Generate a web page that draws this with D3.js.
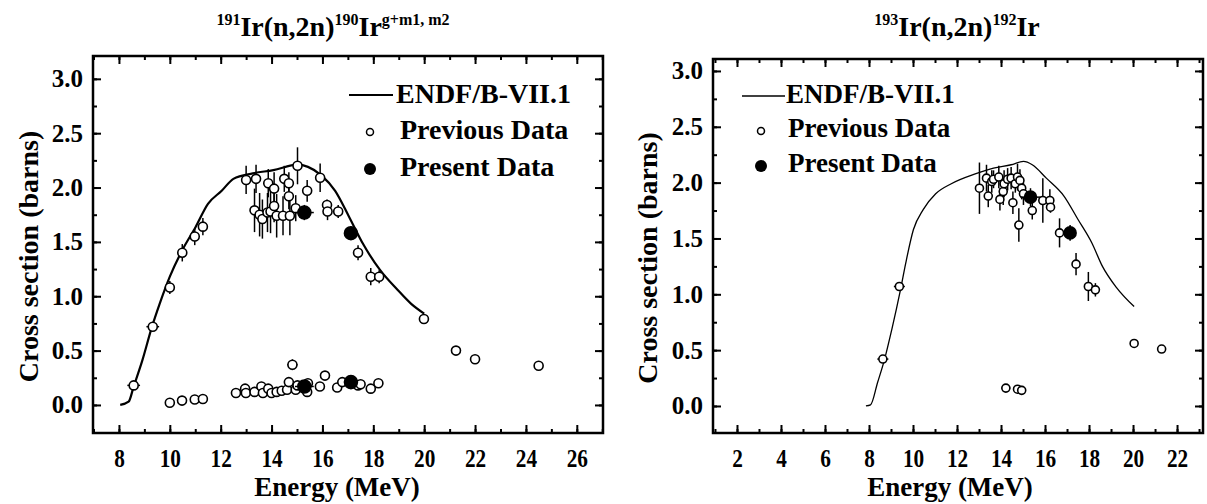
<!DOCTYPE html>
<html><head><meta charset="utf-8">
<script src="https://cdn.jsdelivr.net/npm/d3@7"></script>
<style>
body{margin:0;background:#fff;}
svg{display:block;}
svg text{font-family:"Liberation Serif","Times New Roman",serif;font-weight:bold;fill:#000;}
</style></head>
<body><svg id="c" width="1207" height="504"></svg>
<script>
// ---------- LEFT PANEL: 191Ir(n,2n)190Ir ----------
const leftEndfE = [8.05,8.38,8.58,8.92,9.30,9.60,10.0,10.48,11.02,11.5,12.04,12.5,13.26,14.07,15.02,15.43,15.97,16.5,17.05,17.6,18.27,18.95,19.49,20.0];
const leftEndfS = [0.0,0.03,0.17,0.41,0.72,0.93,1.18,1.42,1.64,1.85,1.97,2.08,2.13,2.16,2.21,2.19,2.11,1.97,1.73,1.48,1.24,1.06,0.93,0.84];

const leftPrevE   = [8.58,9.33,10.0,10.49,10.98,11.3,13.0,13.39,13.33,13.53,13.64,13.87,13.84,13.96,14.1,14.1,14.2,14.45,14.5,14.68,14.68,14.72,14.95,15.02,15.4,15.91,16.18,16.2,16.62,17.4,17.9,18.23,19.99,21.25,22.0,24.5,
                     10.0,10.48,10.98,11.3,12.6,12.96,12.99,13.33,13.6,13.66,13.87,14.0,14.2,14.4,14.61,14.68,14.82,14.95,15.02,15.4,15.43,15.9,16.1,16.58,16.78,17.4,17.5,17.9,18.2];
const leftPrevS   = [0.18,0.72,1.08,1.40,1.55,1.64,2.07,2.08,1.79,1.75,1.71,2.04,1.77,1.78,1.99,1.83,1.74,1.74,2.08,2.04,1.92,1.74,1.81,2.20,1.97,2.09,1.84,1.78,1.78,1.40,1.18,1.18,0.79,0.50,0.42,0.36,
                     0.02,0.04,0.05,0.055,0.11,0.15,0.11,0.12,0.17,0.11,0.15,0.11,0.12,0.13,0.14,0.21,0.37,0.14,0.18,0.12,0.20,0.17,0.27,0.16,0.21,0.18,0.19,0.15,0.20];
const leftPrevErr = [0.02,0.03,0.06,0.08,0.08,0.08,0.13,0.13,0.20,0.20,0.18,0.13,0.18,0.20,0.15,0.15,0.20,0.18,0.12,0.10,0.12,0.18,0.12,0.17,0.10,0.13,0.05,0.08,0.06,0.07,0.08,0.06,0.03,0.01,0.01,0.01,
                     0.02,0.02,0.02,0.02,0.01,0.01,0.01,0.02,0.02,0.02,0.02,0.02,0.02,0.02,0.02,0.02,0.05,0.02,0.02,0.02,0.02,0.01,0.01,0.02,0.01,0.02,0.02,0.02,0.02];
const leftPrevXErr= [0.25,0.25,0,0,0,0,0,0,0,0,0,0,0,0,0,0,0,0,0,0,0,0,0,0,0,0,0,0,0,0,0,0,0,0,0,0,
                     0,0,0,0,0,0,0,0,0,0,0,0,0,0,0,0,0.2,0,0,0,0,0,0,0,0,0,0,0,0];
const leftPresE    = [15.29,17.12,15.29,17.12];
const leftPresS    = [1.77,1.58,0.17,0.21];
const leftPresErr  = [0.07,0.06,0.02,0.02];
const leftPresXErr = [0.37,0.1,0.37,0.1];
const leftXTicks = [8,10,12,14,16,18,20,22,24,26];
const leftYTicks = [0.0,0.5,1.0,1.5,2.0,2.5,3.0];

// ---------- RIGHT PANEL: 193Ir(n,2n)192Ir ----------
const rightEndfE = [7.86,8.07,8.39,8.71,9.03,9.43,9.67,10.02,10.47,11.03,11.74,12.86,13.66,14.46,15.02,15.42,16.06,16.86,17.5,18.13,18.61,19.25,20.05];
const rightEndfS = [0.0,0.01,0.21,0.42,0.68,1.04,1.28,1.58,1.76,1.90,1.99,2.08,2.13,2.16,2.19,2.16,2.04,1.88,1.67,1.46,1.25,1.06,0.89];

const rightPrevE   = [8.63,9.38,13.02,13.34,13.42,13.58,13.66,13.9,13.95,14.1,14.14,14.3,14.46,14.54,14.65,14.75,14.81,14.86,14.94,15.02,15.42,15.9,16.22,16.25,16.66,17.41,17.97,18.29,20.05,21.3,14.22,14.75,14.94];
const rightPrevS   = [0.42,1.07,1.95,2.04,1.88,2.01,2.03,2.05,1.85,1.92,1.99,2.03,2.04,1.82,1.99,2.05,1.62,2.02,1.95,1.90,1.75,1.84,1.84,1.78,1.55,1.27,1.07,1.04,0.56,0.51,0.16,0.15,0.14];
const rightPrevErr = [0.02,0.03,0.23,0.12,0.10,0.10,0.08,0.10,0.10,0.12,0.12,0.10,0.10,0.10,0.08,0.12,0.15,0.10,0.10,0.10,0.08,0.20,0.10,0.05,0.13,0.10,0.13,0.06,0.01,0.01,0.02,0.02,0.04];
const rightPrevXErr= [0.25,0.25,0,0,0,0,0,0,0,0,0,0,0,0,0,0,0,0,0,0,0,0,0,0,0,0,0,0,0,0,0.2,0.2,0];
const rightPresE    = [15.34,17.14];
const rightPresS    = [1.87,1.55];
const rightPresErr  = [0.08,0.07];
const rightPresXErr = [0.45,0.1];
const rightXTicks = [2,4,6,8,10,12,14,16,18,20,22];
const rightYTicks = [0.0,0.5,1.0,1.5,2.0,2.5,3.0];

const legendLabels = ["ENDF/B-VII.1","Previous Data","Present Data"];

const svg = d3.select("#c");
const FONT = "Liberation Serif, Times New Roman, serif";

function panel(o){
  const g = svg.append("g");
  const x = d3.scaleLinear().domain(o.xDom).range([o.L,o.R]);
  const y = d3.scaleLinear().domain(o.yDom).range([o.B,o.T]);

  const xMinor = d3.range(Math.ceil(o.xDom[0]), o.xDom[1]+1e-9, 1);
  const yMinor = d3.range(0, o.yDom[1]+1e-9, 0.25);
  const mk = (axis, sc, vals, len, tr) => g.append("g").attr("transform",tr)
      .call(axis(sc).tickValues(vals).tickSize(-len).tickFormat(""))
      .call(s=>{s.select(".domain").remove(); s.selectAll("line").attr("stroke","#000").attr("stroke-width",2);});
  mk(d3.axisBottom, x, xMinor, 4, `translate(0,${o.B})`);
  mk(d3.axisTop, x, xMinor, 4, `translate(0,${o.T})`);
  mk(d3.axisBottom, x, o.xTicks, 8, `translate(0,${o.B})`);
  mk(d3.axisTop, x, o.xTicks, 8, `translate(0,${o.T})`);
  mk(d3.axisLeft, y, yMinor, 4, `translate(${o.L},0)`);
  mk(d3.axisRight, y, yMinor, 4, `translate(${o.R},0)`);
  mk(d3.axisLeft, y, o.yTicks, 8, `translate(${o.L},0)`);
  mk(d3.axisRight, y, o.yTicks, 8, `translate(${o.R},0)`);

  g.append("g").attr("transform",`translate(0,${o.B})`)
    .call(d3.axisBottom(x).tickValues(o.xTicks).tickSize(0).tickPadding(16).tickFormat(d3.format("d")))
    .call(s=>{s.attr("font-family",FONT).attr("font-size",25); s.select(".domain").remove();
              s.selectAll("text").attr("transform","scale(0.85,1)");});
  g.append("g").attr("transform",`translate(${o.L},0)`)
    .call(d3.axisLeft(y).tickValues(o.yTicks).tickSize(0).tickPadding(10).tickFormat(d3.format(".1f")))
    .call(s=>{s.attr("font-family",FONT).attr("font-size",25); s.select(".domain").remove();});

  g.append("rect").attr("x",o.L).attr("y",o.T).attr("width",o.R-o.L).attr("height",o.B-o.T)
    .attr("fill","none").attr("stroke","#000").attr("stroke-width",2.5);

  const line = d3.line().x(d=>x(d[0])).y(d=>y(d[1])).curve(d3.curveMonotoneX);
  g.append("path").datum(o.endfE.map((e,i)=>[e,o.endfS[i]]))
    .attr("d",line).attr("fill","none").attr("stroke","#000").attr("stroke-width",o.lw);

  function pts(E,S,Err,XErr,r,filled){
    const data = E.map((e,i)=>({e, s:S[i], err:Err[i], xe:XErr[i]}));
    const gg = g.append("g");
    gg.selectAll(".ey").data(data).join("line")
      .attr("x1",d=>x(d.e)).attr("x2",d=>x(d.e))
      .attr("y1",d=>y(d.s-d.err)).attr("y2",d=>y(d.s+d.err))
      .attr("stroke","#000").attr("stroke-width",1.5);
    gg.selectAll(".ex").data(data.filter(d=>d.xe>0)).join("line")
      .attr("x1",d=>x(d.e-d.xe)).attr("x2",d=>x(d.e+d.xe))
      .attr("y1",d=>y(d.s)).attr("y2",d=>y(d.s))
      .attr("stroke","#000").attr("stroke-width",1.5);
    gg.selectAll("circle").data(data).join("circle")
      .attr("cx",d=>x(d.e)).attr("cy",d=>y(d.s)).attr("r",r)
      .attr("fill",filled?"#000":"#fff").attr("stroke","#000").attr("stroke-width",1.6);
  }
  pts(o.prevE,o.prevS,o.prevErr,o.prevXErr,o.rPrev,false);
  pts(o.presE,o.presS,o.presErr,o.presXErr,o.rPres,true);

  const lg = o.leg;
  g.append("line").attr("x1",lg.x1).attr("x2",lg.x2).attr("y1",lg.ly).attr("y2",lg.ly).attr("stroke","#000").attr("stroke-width",o.lw);
  g.append("circle").attr("cx",lg.mx).attr("cy",lg.py).attr("r",3.5).attr("fill","#fff").attr("stroke","#000").attr("stroke-width",1.5);
  g.append("circle").attr("cx",lg.mx).attr("cy",lg.qy).attr("r",6).attr("fill","#000");
  const ty = [lg.t1, lg.t2, lg.t3], tx = [lg.tx1, lg.tx, lg.tx];
  legendLabels.forEach((t,i)=>g.append("text").attr("x",tx[i]).attr("y",ty[i]).attr("font-size",lg.fs).text(t));

  g.append("text").attr("x",o.xTitleX).attr("y",496).attr("text-anchor","middle").attr("font-size",27).text("Energy (MeV)");
  g.append("text").attr("transform",`translate(${o.yTitleX},${(o.T+o.B)/2+12}) rotate(-90)`)
    .attr("text-anchor","middle").attr("font-size",28).text("Cross section (barns)");

  const t = g.append("text").attr("x",o.titleX).attr("y",36).attr("text-anchor","middle").attr("font-size",28);
  o.title.forEach(p=>{
    t.append("tspan").attr("font-size",p[1]?16:28).attr("dy",p[1]?-11:(p[2]?11:0)).text(p[0]);
  });
}

panel({
  L:93, R:603, T:56, B:433, xDom:[6.98,27.03], yDom:[-0.258,3.21],
  xTicks:leftXTicks, yTicks:leftYTicks, lw:2.2,
  endfE:leftEndfE, endfS:leftEndfS,
  prevE:leftPrevE, prevS:leftPrevS, prevErr:leftPrevErr, prevXErr:leftPrevXErr,
  presE:leftPresE, presS:leftPresS, presErr:leftPresErr, presXErr:leftPresXErr,
  rPrev:4.5, rPres:6.5,
  leg:{x1:349,x2:393,ly:95,mx:370,py:132,qy:169,tx1:396,tx:400,t1:103,t2:139,t3:176,fs:28},
  xTitleX:337, yTitleX:38, titleX:333,
  title:[["191",1],["Ir(n,2n)",0,1],["190",1],["Ir",0,1],["g+m1, m2",1]]
});
panel({
  L:713, R:1203, T:59, B:433, xDom:[0.91,23.18], yDom:[-0.242,3.107],
  xTicks:rightXTicks, yTicks:rightYTicks, lw:1.3,
  endfE:rightEndfE, endfS:rightEndfS,
  prevE:rightPrevE, prevS:rightPrevS, prevErr:rightPrevErr, prevXErr:rightPrevXErr,
  presE:rightPresE, presS:rightPresS, presErr:rightPresErr, presXErr:rightPresXErr,
  rPrev:4, rPres:6,
  leg:{x1:742,x2:785,ly:96,mx:761,py:131,qy:166,tx1:786,tx:788,t1:103,t2:137,t3:172,fs:27},
  xTitleX:950, yTitleX:657, titleX:957,
  title:[["193",1],["Ir(n,2n)",0,1],["192",1],["Ir",0,1]]
});
</script></body></html>
